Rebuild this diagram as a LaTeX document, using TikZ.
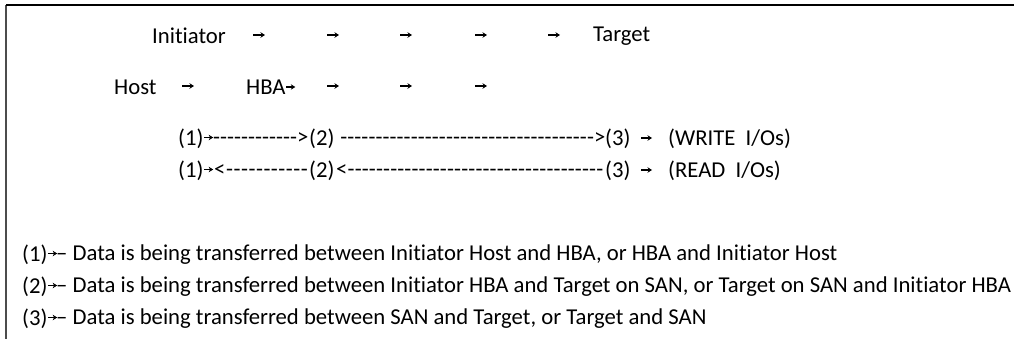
\documentclass[tikz,border=0pt]{standalone}
\usepackage{fontspec}
\setmainfont[Ligatures=NoCommon]{Carlito}
\usetikzlibrary{arrows.meta}

% a run of hyphens of a given width
\newcommand{\dashrun}[1]{\hbox to #1{\xleaders\hbox{-}\hfill}}

\begin{document}
\begin{tikzpicture}[x=1pt, y=-1pt,
    txt/.style={anchor=west, inner sep=0pt, yshift=-3pt, font=\fontsize{22.7}{27}\selectfont},
    tip/.style={-{Stealth[length=4.5pt,width=5.5pt]}, line width=1.3pt}]
  \useasboundingbox (0,0) rectangle (1014,339);
  % frame (top and left only)
  \draw[black!70, line width=1.6pt] (6,339) -- (6,5);
  \draw[black, line width=1.6pt] (6,5) -- (1014,5);

  % first row
  \node[txt] (ini) at (152,33) {Initiator};
  \node[txt] (tgt) at (593,33) {Target};
  \foreach \x in {253,327,400,475,548}
    \draw[tip] (\x,35) -- ++(12,0);

  % second row
  \node[txt] (host) at (114,84) {Host};
  \node[txt] (hba) at (246,84) {HBA};
  \draw[tip] ([xshift=0.5pt,yshift=0pt]hba.east) -- ++(9,0);
  \foreach \x in {182,327,400,475}
    \draw[tip] (\x,86) -- ++(12,0);

  % write path
  \node[txt] (w1) at (178,136) {(1)};
  \draw[tip] ([xshift=0.5pt,yshift=1.5pt]w1.east) -- ++(9,0);
  \node[txt] (wd1) at (213,136) {\dashrun{84pt}>};
  \node[txt] (w2) at (309,136) {(2)};
  \node[txt] (wd2) at (340,136) {\dashrun{254pt}>};
  \node[txt] (w3) at (605,136) {(3)};
  \draw[tip] (641,138) -- ++(11,0);
  \node[txt] (wlab) at (668,136) {(WRITE\ \ I/Os)};

  % read path
  \node[txt] (r1) at (178,168) {(1)};
  \draw[tip] ([xshift=0.5pt,yshift=1.5pt]r1.east) -- ++(9,0);
  \node[txt] (rd1) at (214,168) {<\dashrun{83pt}};
  \node[txt] (r2) at (309,168) {(2)};
  \node[txt] (rd2) at (336,168) {<\dashrun{256pt}};
  \node[txt] (r3) at (605,168) {(3)};
  \draw[tip] (641,170) -- ++(11,0);
  \node[txt] (rlab) at (668,168) {(READ\ \ I/Os)};

  % legend
  \foreach \n/\y/\t in {1/252/{Data is being transferred between Initiator Host and HBA, or HBA and Initiator Host},
      2/284/{Data is being transferred between Initiator HBA and Target on SAN, or Target on SAN and Initiator HBA},
      3/316/{Data is being transferred between SAN and Target, or Target and SAN}} {
    \node[txt] (key\n) at (22,\y) {(\n)};
    \draw[tip] ([xshift=0.5pt,yshift=1.5pt]key\n.east) -- ++(9,0);
    \node[txt] (desc\n) at (56,\y) {– \t};
  }
\end{tikzpicture}
\end{document}
